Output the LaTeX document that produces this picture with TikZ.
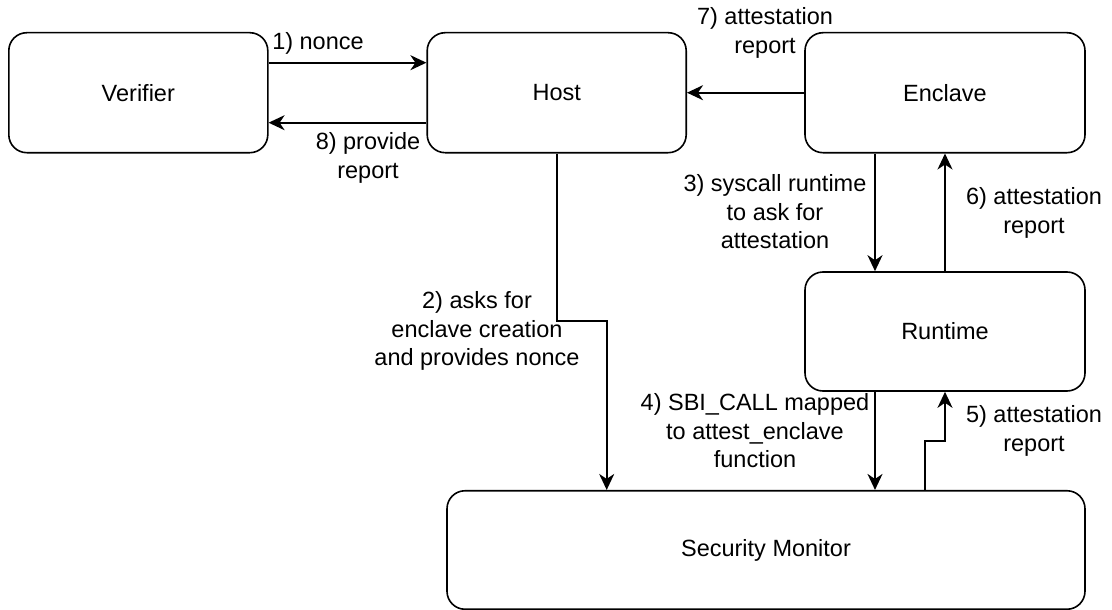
\documentclass[tikz,border=0pt]{standalone}
\usepackage{fontspec}
\setmainfont{Liberation Sans}
\usetikzlibrary{arrows.meta,calc}
\begin{document}
\begin{tikzpicture}[x=1pt,y=-1pt,
  box/.style={draw,line width=1.6pt,rounded corners=18pt,inner sep=0pt,
    font=\fontsize{23.5}{28.5}\selectfont},
  arr/.style={line width=1.7pt,-{Stealth[length=16pt,width=15pt,inset=5pt]}},
  lbl/.style={inner sep=0pt,align=center,font=\fontsize{23.5}{28.5}\selectfont}]
\useasboundingbox (0,0) rectangle (1112,610);

% components
\node[box,minimum width=259pt,minimum height=120pt] (verifier) at (138.3,92.7) {Verifier};
\node[box,minimum width=259pt,minimum height=120pt] (host) at (556.7,92.7) {Host};
\node[box,minimum width=280pt,minimum height=120pt] (enclave) at (945,92.7) {Enclave};
\node[box,minimum width=280pt,minimum height=119pt] (runtime) at (945,331.5) {Runtime};
\node[box,minimum width=638pt,minimum height=118.5pt] (sm) at (766,550) {Security Monitor};

% verifier <-> host
\draw[arr] ([yshift=30pt]verifier.east) -- ([yshift=30pt]host.west);
\draw[arr] ([yshift=-30pt]host.west) -- ([yshift=-30pt]verifier.east);
\node[lbl] (l1) at (318,43) {1) nonce};
\node[lbl] (l8) at (368,158) {8) provide\\report};

% enclave -> host
\draw[arr] (enclave.west) -- (host.east);
\node[lbl] (l7) at (765,33) {7) attestation\\report};

% host -> security monitor
\coordinate (bend2) at (606.7,321.2);
\draw[arr] (host.south) |- (bend2) -- (bend2 |- sm.north);
\node[lbl] (l2) at (477,331) {2) asks for\\enclave creation\\and provides nonce};

% enclave <-> runtime
\draw[arr] ([xshift=-70pt]enclave.south) -- ([xshift=-70pt]runtime.north);
\draw[arr] (runtime.north) -- (enclave.south);
\node[lbl] (l3) at (775,212) {3) syscall runtime\\to ask for\\attestation};
\node[lbl] (l6) at (1034,213) {6) attestation\\report};

% runtime <-> security monitor
\draw[arr] ([xshift=-70pt]runtime.south) -- ([xshift=-70pt]runtime.south |- sm.north);
\coordinate (bend5) at (925,440.7);
\draw[arr] (bend5 |- sm.north) -- (bend5) -| (runtime.south);
\node[lbl] (l4) at (755,431) {4) SBI\_CALL mapped\\to attest\_enclave\\function};
\node[lbl] (l5) at (1034,431) {5) attestation\\report};
\end{tikzpicture}
\end{document}
